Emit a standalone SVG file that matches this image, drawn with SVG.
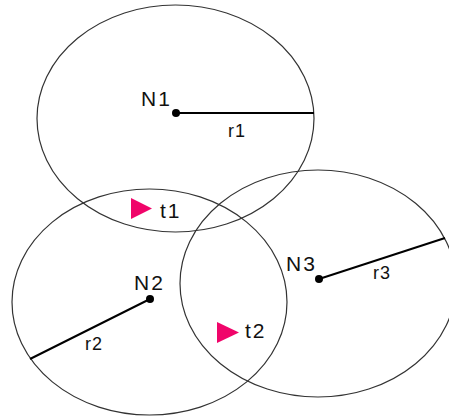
<svg xmlns="http://www.w3.org/2000/svg" width="449" height="416" viewBox="0 0 449 416">
<style>
.c{fill:none;stroke:#333;stroke-width:1.2}
.r{stroke:#000;stroke-width:2}
.t{font-family:"Liberation Sans",Arial,sans-serif;fill:#111}
.n{font-size:21px;letter-spacing:2px}
.s{font-size:18px;letter-spacing:1px}
.m{fill:#f0056a}
</style>
<rect width="449" height="416" fill="#fff"/>
<g id="N1">
<ellipse class="c" cx="175.5" cy="118.5" rx="138.5" ry="113.5"/>
<circle cx="176" cy="113" r="4"/>
<text class="t n" x="141" y="106">N1</text>
</g>
<g id="N2">
<ellipse class="c" cx="149.5" cy="302" rx="137.5" ry="113"/>
<circle cx="150" cy="299" r="4"/>
<text class="t n" x="134" y="290">N2</text>
</g>
<g id="N3">
<ellipse class="c" cx="318" cy="283.5" rx="138" ry="113.5"/>
<circle cx="319" cy="279" r="4"/>
<text class="t n" x="286" y="271">N3</text>
</g>
<g id="connectors">
<line class="r" x1="176" y1="113" x2="314" y2="113"/>
<line class="r" x1="150" y1="299" x2="30" y2="359"/>
<line class="r" x1="319" y1="279" x2="445" y2="238"/>
</g>
<g id="labels">
<text class="t s" x="228" y="137">r1</text>
<text class="t s" x="85" y="350">r2</text>
<text class="t s" x="373" y="279">r3</text>
</g>
<g id="t1">
<polygon class="m" points="131,198 152,208.5 131,219"/>
<text class="t n" x="160" y="218">t1</text>
</g>
<g id="t2">
<polygon class="m" points="217,322 239,332.5 217,343"/>
<text class="t n" x="245" y="338">t2</text>
</g>
</svg>
